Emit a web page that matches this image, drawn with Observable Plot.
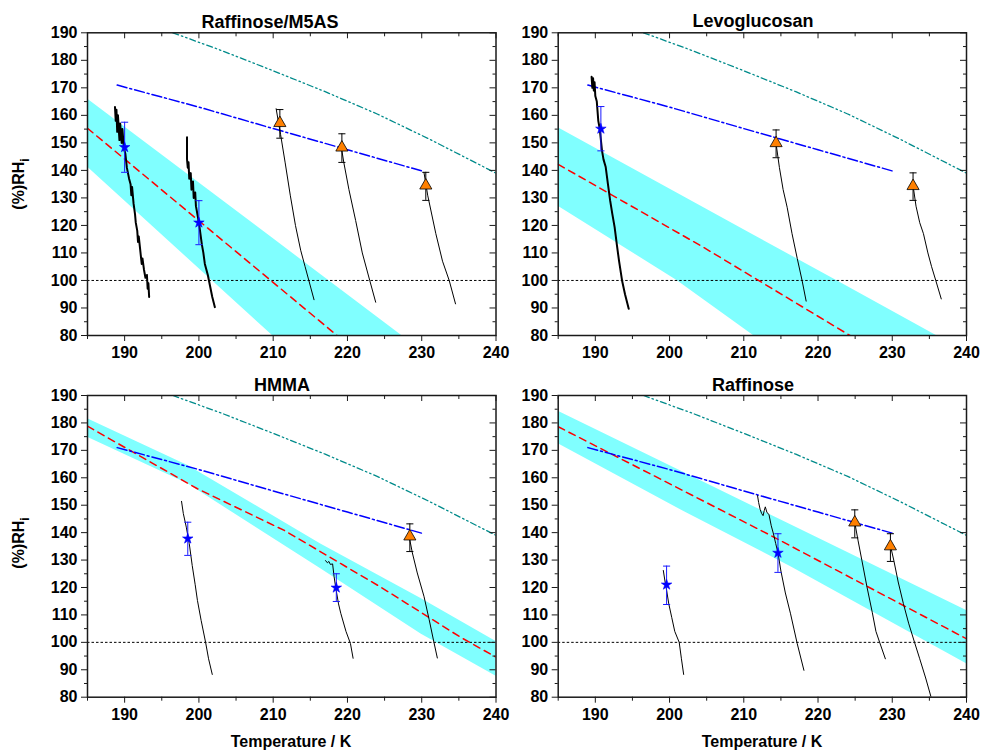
<!DOCTYPE html>
<html>
<head>
<meta charset="utf-8">
<script src="https://cdn.jsdelivr.net/npm/d3@7"></script>
<script src="https://cdn.jsdelivr.net/npm/@observablehq/plot@0.6"></script>
<style>
  html, body { margin: 0; padding: 0; background: #fff; }
  #wrap { position: relative; width: 981px; height: 751px; overflow: hidden; background: #fff;
          font-family: "Liberation Sans", Arial, sans-serif; color: #000; }
  .pl { position: absolute; }
  .ttl { position: absolute; transform: translate(-50%, -50%); font-weight: bold; font-size: 18px; white-space: nowrap; }
  .xl { position: absolute; transform: translate(-50%, -50%); font-weight: bold; font-size: 16px; white-space: nowrap; }
  .yl { position: absolute; transform: translate(-50%, -50%) rotate(-90deg); font-weight: bold; font-size: 16px; white-space: nowrap; }
  .yl sub { font-size: 12px; }
</style>
</head>
<body>
<div id="wrap"></div>
<script>
// ---- tick values ----
const xMajor = [190, 200, 210, 220, 230, 240];
const xMinor = [185, 195, 205, 215, 225, 235];
const yMajor = [80, 90, 100, 110, 120, 130, 140, 150, 160, 170, 180, 190];
const yMinor = [85, 95, 105, 115, 125, 135, 145, 155, 165, 175, 185];

// ---- shared lines [T, RHi] ----
const homFreeze = [[196.5,190],[203,183.6],[210,176.2],[217,168.6],[224,160.5],[231,151.4],[240,139]];
const hetLine = [[189,171],[200,163],[210,155.2],[220,147.5],[230,139.8]];
const iceSat = [100];

// ---- Raffinose/M5AS ----
const rm5asBand = [[185,141.2,165.9],[209.9,80,115.4],[227.3,37.1,80]];   // [T, lo, hi]
const rm5asFit = [[185,155.3],[218.6,80]];
const rm5asRun1 = [[188.7,163],[188.8,158],[188.9,162],[189.0,154],[189.1,160],[189.3,151],[189.4,157],[189.6,150],[189.7,155],[189.9,148],[190.1,146],[190.3,141],[190.6,137],[190.8,135],[190.9,131],[191.0,134],[191.2,128],[191.4,124],[191.5,121],[191.7,118],[191.8,114],[191.9,116],[192.1,111],[192.3,106],[192.4,108],[192.6,104],[192.8,101],[193.0,102],[193.1,97],[193.2,99],[193.3,94]];
const rm5asRun2 = [[198.4,152],[198.4,144],[198.5,141],[198.6,143],[198.7,137],[198.9,139],[199.0,133],[199.2,136],[199.3,130],[199.5,132],[199.6,127],[199.8,124],[200.0,121],[200.2,117],[200.4,113],[200.6,110],[200.8,106],[201.0,104],[201.2,102],[201.5,98],[201.8,94],[202.15,90.3]];
const rm5asRun3 = [[210.4,162.4],[211.0,153],[211.6,143],[212.3,131],[213.0,120],[213.7,111],[214.3,105],[214.8,100],[215.5,93]];
const rm5asRun4 = [[219.1,149.7],[219.5,143],[220.2,133],[221.1,121.8],[222.0,110],[223.0,100],[223.8,92.1]];
const rm5asRun5 = [[230.3,139.3],[230.8,131],[231.9,117],[232.8,107],[233.7,100],[234.55,91.5]];
const rm5asStars = [[190.0,148.4,139.3,157.5],[200.0,121.0,113,129]];      // [T, RH, lo, hi]
const rm5asTris = [[210.9,157.2,151.7,162.1],[219.25,148.3,142.9,153.3],[230.55,134.5,129.1,139.3]];

// ---- Levoglucosan ----
const levoBand = [[185,127,155.5],[201,100,131.8],[211.3,80,116.5],[222.5,58.4,100],[236,32.4,79.9]];
const levoFit = [[185,142.2],[204.6,112],[224.3,80]];
const levoRun1 = [[189.5,174],[189.6,170],[189.7,173.5],[189.8,169],[189.9,172],[190.0,167],[190.2,165],[190.4,158],[190.6,155],[190.9,147.2],[191.1,144],[191.4,141.2],[191.7,135],[192.0,129],[192.3,124],[192.6,119.4],[192.9,113],[193.2,107],[193.6,100],[194.0,95],[194.5,89.7]];
const levoRun2 = [[214.35,149.7],[214.8,141],[215.3,133],[215.84,126.6],[216.5,117],[217.2,108],[217.85,100],[218.4,92.5]];
const levoRun3 = [[232.8,134.5],[233.2,127],[233.7,121],[234.2,117],[234.8,110],[235.3,105],[235.86,100],[236.6,93.3]];
const levoStars = [[190.75,155.1,147.1,163.2]];
const levoTris = [[214.35,149.9,144.6,154.7],[232.8,134.3,129.1,139.1]];

// ---- HMMA ----
const hmmaBand = [[185,174.8,181.5],[198.5,157.8,164.5],[216.4,126.8,135.9],[229.9,103,116],[240.2,87.3,100]];
const hmmaFit = [[185,178.8],[199.8,156],[211.5,140.8],[224.5,120.1],[235.2,101.9],[240,94.6]];
const hmmaRun1 = [[197.66,151.4],[197.9,147],[198.3,142],[198.7,136],[199.1,128],[199.5,121],[199.8,115.3],[200.3,108],[200.9,100],[201.3,94],[201.8,88.3]];
const hmmaRun2 = [[217.05,129.8],[217.3,129],[217.5,129.5],[217.7,128.4],[218.0,128.6],[218.2,124],[218.4,120.3],[218.8,114],[219.1,110.6],[219.8,104],[220.4,99.6],[220.76,94.2]];
const hmmaRun3 = [[228.3,138.7],[228.74,132.6],[229.4,125.3],[230.3,116.8],[231.0,108.3],[231.66,99.8],[232.1,94.3]];
const hmmaStars = [[198.5,137.8,131.7,143.8],[218.5,119.9,114.9,125.0]];
const hmmaTris = [[228.4,138.6,133.1,143.2]];

// ---- Raffinose ----
const raffBand = [[185,172.4,184.3],[202,147.6,161.8],[216.4,127.5,142.8],[240,92.2,111.6]];
const raffFit = [[185,178.6],[213.6,139],[240,101.3]];
const raffRun1 = [[199.16,126.2],[199.4,122],[199.6,119],[199.9,114],[200.3,109],[200.7,104],[201.3,100],[201.6,94],[201.9,88.3]];
const raffRun2 = [[211.85,153.5],[212.0,151],[212.2,148.5],[212.4,147],[212.6,146.2],[212.75,148],[212.9,149.4],[213.1,147.5],[213.4,146.5],[213.7,142.5],[214.0,139.5],[214.3,136],[214.6,132.7],[215.0,126],[215.6,118],[216.3,110.4],[217.2,99.5],[218.1,89.8]];
const raffRun3 = [[224.94,143.8],[225.4,137],[225.9,130],[226.6,120.1],[227.3,111],[227.8,104],[228.3,100],[229.07,94]];
const raffRun4 = [[229.75,135.3],[230.2,130],[230.8,122],[231.5,114.1],[232.2,107],[233.0,100],[233.7,94],[234.5,87],[235.23,80]];
const raffStars = [[199.6,121.0,113.8,127.8],[214.6,132.6,125.5,139.6]];
const raffTris = [[224.95,143.7,138.1,148.3],[229.75,135.0,129.5,139.6]];

const FONT = '"Liberation Sans", Arial, sans-serif';
const capSymbol = { draw(ctx, size) { const w = Math.sqrt(size); ctx.moveTo(-w, 0); ctx.lineTo(w, 0); } };
const px = d => d[0], py = d => d[1];

function panel(d, g) {
  const innerW = g.width - g.ml - g.mr;
  const innerH = g.height - g.mt - g.mb;
  const marks = [
    Plot.areaY(d.band, {x: px, y1: d => d[1], y2: d => d[2], fill: "#80ffff", clip: true}),
    Plot.ruleY(iceSat, {stroke: "#000", strokeWidth: 1, strokeDasharray: "2.5,2"}),
    Plot.line(d.fit, {x: px, y: py, stroke: "#ff0000", strokeWidth: 1.5, strokeDasharray: "7,5", clip: true}),
    Plot.line(hetLine, {x: px, y: py, stroke: "#0000ff", strokeWidth: 1.5, strokeDasharray: "10,3,2,3", clip: true}),
    Plot.line(homFreeze, {x: px, y: py, stroke: "#008b8b", strokeWidth: 1.3, strokeDasharray: "6,3,1.5,3,1.5,3", clip: true}),
  ];
  d.runs.forEach((r, i) => marks.push(
    Plot.line(r, {x: px, y: py, stroke: "#000", strokeWidth: (d.thick && d.thick[i]) ? 2 : 1, clip: true})));
  for (const [set, col] of [[d.tris, "#000"], [d.stars, "#1a1aff"]]) {
    marks.push(Plot.ruleX(set, {x: px, y1: r => r[2], y2: r => r[3], stroke: col, strokeWidth: 1}));
    marks.push(Plot.dot(set, {x: px, y: r => r[2], symbol: capSymbol, r: 2, stroke: col, fill: "none", strokeWidth: 1}));
    marks.push(Plot.dot(set, {x: px, y: r => r[3], symbol: capSymbol, r: 2, stroke: col, fill: "none", strokeWidth: 1}));
  }
  marks.push(Plot.dot(d.tris, {x: px, y: py, symbol: "triangle", r: 4.5, fill: "#ff8000", stroke: "#000", strokeWidth: 0.8}));
  marks.push(Plot.dot(d.stars, {x: px, y: py, symbol: "star", r: 3.3, fill: "#0000ff", stroke: "#0000ff", strokeWidth: 0.6}));
  marks.push(
    Plot.frame({stroke: "#1a1a1a", strokeWidth: 1.5}),
    Plot.axisX({ticks: xMajor, anchor: "bottom", tickSize: 6, tickPadding: 5, fontSize: 16, fontWeight: "bold", tickFormat: v => String(v), stroke: "#1a1a1a", fill: "#000", label: null}),
    Plot.axisX({ticks: xMinor, anchor: "bottom", tickSize: 4, fill: "none", stroke: "#1a1a1a", label: null}),
    Plot.axisY({ticks: yMajor, anchor: "left", tickSize: 6, tickPadding: 4, fontSize: 16, fontWeight: "bold", tickFormat: v => String(v), stroke: "#1a1a1a", fill: "#000", label: null}),
    Plot.axisY({ticks: yMinor, anchor: "left", tickSize: 3, fill: "none", stroke: "#1a1a1a", label: null}),
    Plot.tickX(xMajor, {x: v => v, insetBottom: innerH - 6, stroke: "#1a1a1a"}),
    Plot.tickX(xMinor, {x: v => v, insetBottom: innerH - 4, stroke: "#1a1a1a"}),
    Plot.tickY(yMajor, {y: v => v, insetLeft: innerW - 6, stroke: "#1a1a1a"}),
    Plot.tickY(yMinor, {y: v => v, insetLeft: innerW - 3, stroke: "#1a1a1a"})
  );
  const svg = Plot.plot({
    width: g.width, height: g.height,
    marginLeft: g.ml, marginRight: g.mr, marginTop: g.mt, marginBottom: g.mb,
    x: {domain: [185, 240], label: null},
    y: {domain: [80, 190], label: null},
    style: {background: "transparent", fontFamily: FONT, color: "#000", overflow: "visible"},
    marks
  });
  svg.classList.add("pl");
  svg.style.left = g.left + "px";
  svg.style.top = g.top + "px";
  return svg;
}

const wrap = document.getElementById("wrap");
const geoTL = {left: 0, top: 0, width: 510, height: 370, ml: 87, mr: 14.5, mt: 32.3, mb: 35};
const geoTR = {left: 490, top: 0, width: 491, height: 370, ml: 67.7, mr: 15, mt: 32.3, mb: 35};
const geoBL = {left: 0, top: 370, width: 510, height: 381, ml: 87, mr: 14.5, mt: 25, mb: 54.3};
const geoBR = {left: 490, top: 370, width: 491, height: 381, ml: 67.7, mr: 15, mt: 25, mb: 54.3};

wrap.appendChild(panel({band: rm5asBand, fit: rm5asFit, runs: [rm5asRun1, rm5asRun2, rm5asRun3, rm5asRun4, rm5asRun5], thick: [true, true], stars: rm5asStars, tris: rm5asTris}, geoTL));
wrap.appendChild(panel({band: levoBand, fit: levoFit, runs: [levoRun1, levoRun2, levoRun3], thick: [true], stars: levoStars, tris: levoTris}, geoTR));
wrap.appendChild(panel({band: hmmaBand, fit: hmmaFit, runs: [hmmaRun1, hmmaRun2, hmmaRun3], stars: hmmaStars, tris: hmmaTris}, geoBL));
wrap.appendChild(panel({band: raffBand, fit: raffFit, runs: [raffRun1, raffRun2, raffRun3, raffRun4], stars: raffStars, tris: raffTris}, geoBR));

const titles = [["Raffinose/M5AS", 270, 22], ["Levoglucosan", 753, 21], ["HMMA", 282, 385], ["Raffinose", 753, 385]];
for (const [t, x, y] of titles) {
  const el = document.createElement("div");
  el.className = "ttl"; el.textContent = t;
  el.style.left = x + "px"; el.style.top = y + "px";
  wrap.appendChild(el);
}
for (const [x, y] of [[291, 742], [762, 742]]) {
  const el = document.createElement("div");
  el.className = "xl"; el.textContent = "Temperature / K";
  el.style.left = x + "px"; el.style.top = y + "px";
  wrap.appendChild(el);
}
for (const y of [184, 543]) {
  const el = document.createElement("div");
  el.className = "yl"; el.innerHTML = "(%)RH<sub>i</sub>";
  el.style.left = "21px"; el.style.top = y + "px";
  wrap.appendChild(el);
}
</script>
</body>
</html>
